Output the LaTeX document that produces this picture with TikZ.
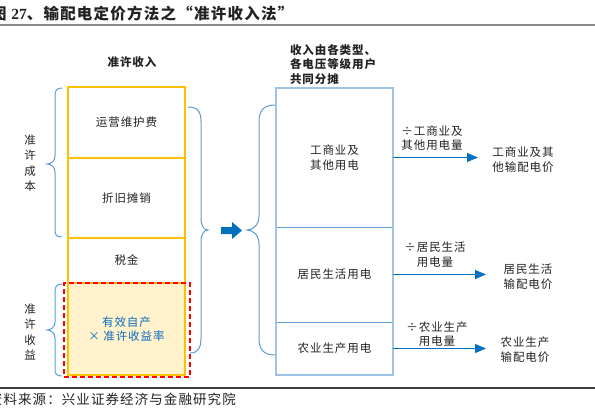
\documentclass[tikz,border=0pt]{standalone}
\usepackage{fontspec}
\setmainfont{Noto Sans CJK SC}[LetterSpace=8]
\newfontfamily\numf{Liberation Serif}
\usetikzlibrary{arrows.meta}
\definecolor{ylw}{HTML}{FFC000}
\definecolor{yfill}{HTML}{FFF2CC}
\definecolor{bbord}{HTML}{9DC3E6}
\definecolor{bdiv}{HTML}{5B9BD5}
\definecolor{brc}{HTML}{5B9BD5}
\definecolor{arr}{HTML}{0070C0}
\definecolor{ttxt}{HTML}{0B6BC0}
\definecolor{txt}{HTML}{222222}
\begin{document}
\begin{tikzpicture}[x=1pt,y=-1pt,
  every node/.style={inner sep=0pt, outer sep=0pt, text=txt, font=\fontsize{11.5}{14.5}\selectfont, align=center},
  ybox/.style={draw=ylw, line width=1.2pt, minimum width=117pt},
  bbox/.style={draw=bdiv, line width=0.9pt, minimum width=117pt},
  brace/.style={draw=brc, line width=1pt},
  conn/.style={draw=arr, line width=1pt, -{Triangle[length=11pt,width=9pt]}},
  vlab/.style={font=\fontsize{11.5}{15.5}\selectfont},
  hd/.style={font=\fontsize{11.5}{14.5}\selectfont\bfseries},
]
\useasboundingbox (0,0) rectangle (595,420);

% title and rules
\node[anchor=west, font=\fontsize{15.5}{18}\selectfont\bfseries] (title) at (-9,14) {图 {\numf\bfseries 27}、输配电定价方法之“准许收入法”};
\draw[color=black!45, line width=2pt] (0,25) -- (595,25);
\draw[color=black!75, line width=1.3pt] (0,388) -- (595,388);
\node[anchor=west, font=\fontsize{13.5}{15}\selectfont] (src) at (-11,399.5) {资料来源：兴业证券经济与金融研究院};

% headings
\node[hd] (h1) at (132,62) {准许收入};
\node[hd, anchor=west, align=left] (h2) at (290,64.5) {收入由各类型、\\各电压等级用户\\共同分摊};

% left column
\node[ybox, minimum height=71pt] (om) at (126.5,122.5) {运营维护费};
\node[ybox, minimum height=80pt] (dep) at (126.5,198) {折旧摊销};
\node[ybox, minimum height=45pt] (tax) at (126.5,260.5) {税金};
\node[ybox, fill=yfill, minimum height=92pt, text=ttxt] (ret) at (126.5,329) {有效自产\\× 准许收益率};
\node[draw=red, line width=1.8pt, dash pattern=on 5pt off 3pt, minimum width=126pt, minimum height=94pt] (rbox) at (127,330) {};

% left labels and braces
\node[vlab] (lc) at (30,163) {准\\许\\成\\本};
\node[vlab] (lr) at (30,332) {准\\许\\收\\益};
\draw[brace] (62,88) .. controls (56,88) and (55,91) .. (55,97) -- (55,156) .. controls (55,161) and (51,164) .. (47,164) .. controls (51,164) and (55,167) .. (55,172) -- (55,229) .. controls (55,235) and (56,237) .. (62,237);
\draw[brace] (62,284) .. controls (56,284) and (55,287) .. (55,293) -- (55,322) .. controls (55,327) and (51,330) .. (47,330) .. controls (51,330) and (55,333) .. (55,338) -- (55,368) .. controls (55,374) and (56,376) .. (62,376);

% middle braces and block arrow
\draw[brace] (188,107) .. controls (198,107) and (201,112) .. (201,122) -- (201,218) .. controls (201,226) and (204,230) .. (208,230) .. controls (204,230) and (201,234) .. (201,242) -- (201,338) .. controls (201,348) and (198,353) .. (190,353);
\draw[brace] (275,105) .. controls (263,105) and (259,111) .. (259,122) -- (259,216) .. controls (259,225) and (253,230) .. (247,230) .. controls (253,230) and (259,235) .. (259,244) -- (259,338) .. controls (259,349) and (263,355) .. (275,355);
\fill[arr] (221,227) -- (232,227) -- (232,222) -- (242,230.5) -- (232,239) -- (232,234) -- (221,234) -- cycle;

% right column
\node[bbox, minimum height=139pt] (A) at (334.5,157.5) {工商业及\\其他用电};
\node[bbox, minimum height=95pt] (B) at (334.5,274.5) {居民生活用电};
\node[bbox, minimum height=53pt] (C) at (334.5,348.5) {农业生产用电};
\draw[draw=bbord, line width=1.8pt] (A.north west) rectangle (C.south east);

% arrows
\coordinate (t1) at (478,157.5);
\coordinate (t2) at (486,274.5);
\coordinate (t3) at (486,348.5);
\draw[conn] (A.east) -- (t1);
\draw[conn] (B.east) -- (t2);
\draw[conn] (C.east) -- (t3);
\node (l1) at (432,138) {÷工商业及\\其他用电量};
\node (l2) at (435,254.5) {÷居民生活\\用电量};
\node (l3) at (437,334) {÷农业生产\\用电量};
\node (r1) at (523,159.5) {工商业及其\\他输配电价};
\node (r2) at (528,276.5) {居民生活\\输配电价};
\node (r3) at (525,349.5) {农业生产\\输配电价};
\end{tikzpicture}
\end{document}
